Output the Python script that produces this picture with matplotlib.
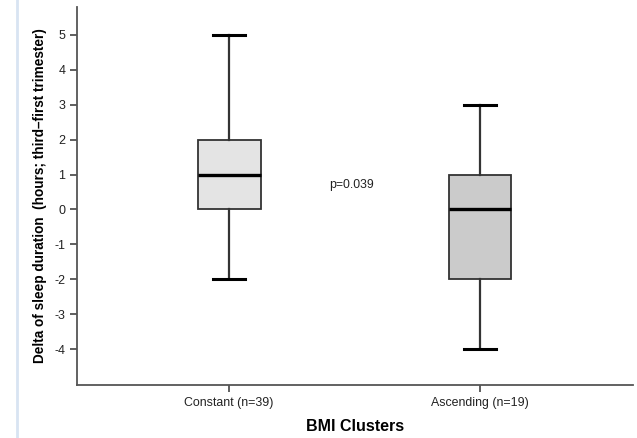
import matplotlib
matplotlib.use("Agg")
import matplotlib.pyplot as plt
from matplotlib.lines import Line2D

plt.rcParams['font.family'] = ['Liberation Sans', 'DejaVu Sans']

categories = ["Constant (n=39)", "Ascending (n=19)"]
whislo = [-2, -4]
q1 = [0, -2]
med = [1, 0]
q3 = [2, 1]
whishi = [5, 3]
box_colors = ["#e4e4e4", "#cbcbcb"]
yticks = [-4, -3, -2, -1, 0, 1, 2, 3, 4, 5]

fig = plt.figure(figsize=(6.37, 4.38), dpi=100)
ax = fig.add_axes([0.121, 0.121, 0.873, 0.863])

stats = [dict(label=c, whislo=wl, q1=a, med=m, q3=b, whishi=wh, fliers=[])
         for c, wl, a, m, b, wh in zip(categories, whislo, q1, med, q3, whishi)]
bp = ax.bxp(stats, positions=[1, 2], widths=0.25, patch_artist=True,
            showfliers=False,
            boxprops=dict(edgecolor="#333333", linewidth=1.3),
            medianprops=dict(color="black", linewidth=2.4),
            whiskerprops=dict(color="#333333", linewidth=1.6),
            capprops=dict(color="black", linewidth=2.2),
            capwidths=0.125)
for patch, col in zip(bp['boxes'], box_colors):
    patch.set_facecolor(col)

ax.set_xlim(0.394, 2.61)
ax.set_ylim(-5.03, 5.8)
ax.set_yticks(yticks)
ax.set_yticklabels([str(t) for t in yticks], fontsize=9, color="#222222")
ax.set_xticks([1, 2])
ax.set_xticklabels(categories, fontsize=8.9, color="#222222")
ax.tick_params(axis='both', direction='out', length=5, width=1.2, color="#444444")
for s in ['top', 'right']:
    ax.spines[s].set_visible(False)
for s in ['left', 'bottom']:
    ax.spines[s].set_color("#555555")
    ax.spines[s].set_linewidth(1.3)

ax.set_ylabel("Delta of sleep duration  (hours; third\u2013first trimester)",
              fontsize=9.8, fontweight='bold', labelpad=5)
ax.set_xlabel("BMI Clusters", fontsize=11.5, fontweight='bold', labelpad=7)
ax.text(1.40, 0.7, "p=0.039", fontsize=8.8, ha='left', va='center', color="#222222")

fig.add_artist(Line2D([0.027, 0.027], [0.0, 1.0], transform=fig.transFigure,
                      color="#d8e4f2", linewidth=2))

fig.savefig("out.png", dpi=100)
